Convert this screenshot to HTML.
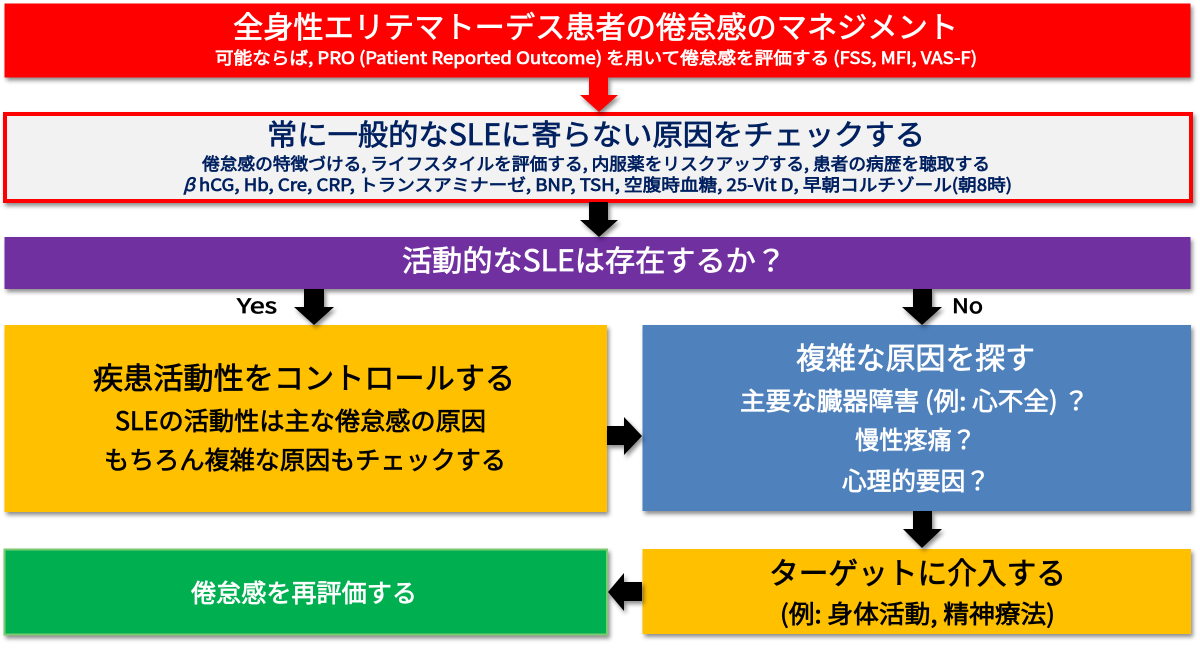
<!DOCTYPE html>
<html lang="ja">
<head>
<meta charset="utf-8">
<style>
html,body{margin:0;padding:0;background:#fff;width:1200px;height:654px;overflow:hidden}
svg{display:block}
text{font-family:"Noto Sans CJK JP","Liberation Sans",sans-serif;font-weight:400;text-anchor:start;stroke-width:.7px}
.s{filter:drop-shadow(2px 3px 2px rgba(0,0,0,.45))}
.w{fill:#fff;stroke:#fff}.n{fill:#002060;stroke:#002060}.k{fill:#000;stroke:#000}
</style>
</head>
<body>
<svg width="1200" height="654" viewBox="0 0 1200 654" xmlns="http://www.w3.org/2000/svg">
<rect class="s" x="4.5" y="3.5" width="1186" height="74" fill="#ff0000"/>
<rect class="s" x="5" y="114" width="1186" height="87" fill="#f2f2f2" stroke="#ff0000" stroke-width="4"/>
<rect class="s" x="4.5" y="237" width="1186" height="52" fill="#7030a0"/>
<rect class="s" x="4.5" y="325" width="602.5" height="187" fill="#ffc000"/>
<rect class="s" x="642.5" y="325" width="548.5" height="186" fill="#4f81bd"/>
<rect class="s" x="4.5" y="549.5" width="602.5" height="85" fill="#00b050" stroke="#7ccb72" stroke-width="2"/>
<rect class="s" x="642.5" y="549" width="548.5" height="85" fill="#ffc000"/>

<polygon class="s" fill="#ff0000" points="589,77 608,77 608,95 618,95 599,112 580,95 589,95"/>
<polygon class="s" fill="#000" points="589,202 608,202 608,220 618,220 599,237 580,220 589,220"/>
<polygon class="s" fill="#000" points="304,289 324,289 324,307 334,307 314,325 294,307 304,307"/>
<polygon class="s" fill="#000" points="913,289 932,289 932,307 942,307 922,325 902,307 913,307"/>
<polygon class="s" fill="#000" points="607,426 624,426 624,417 642,436 624,455 624,445 607,445"/>
<polygon class="s" fill="#000" points="913,511 932,511 932,529 942,529 922,548 903,529 913,529"/>
<polygon class="s" fill="#000" points="642,582 642,601 624,601 624,611 608,592 624,573 624,582"/>

<text class="w" x="233" y="38" font-size="30" textLength="725" lengthAdjust="spacingAndGlyphs">全身性エリテマトーデス患者の倦怠感のマネジメント</text>
<text class="w" x="215" y="64" font-size="17" textLength="762" lengthAdjust="spacingAndGlyphs">可能ならば, PRO (Patient Reported Outcome) を用いて倦怠感を評価する (FSS, MFI, VAS-F)</text>

<text class="n" x="267" y="145" font-size="29" textLength="658" lengthAdjust="spacingAndGlyphs">常に一般的なSLEに寄らない原因をチェックする</text>
<text class="n" x="202" y="170" font-size="17" textLength="788" lengthAdjust="spacingAndGlyphs">倦怠感の特徴づける, ライフスタイルを評価する, 内服薬をリスクアップする, 患者の病歴を聴取する</text>
<text class="n" x="183" y="191" font-size="17" textLength="829" lengthAdjust="spacingAndGlyphs"><tspan font-style="italic">β</tspan> hCG, Hb, Cre, CRP, トランスアミナーゼ, BNP, TSH, 空腹時血糖, 25-Vit D, 早朝コルチゾール(朝8時)</text>

<text class="w" x="402" y="271" font-size="29" textLength="384" lengthAdjust="spacingAndGlyphs">活動的なSLEは存在するか？</text>
<text class="k" x="237" y="313" font-size="20" textLength="40" lengthAdjust="spacingAndGlyphs">Yes</text>
<text class="k" x="952" y="313" font-size="20" textLength="31" lengthAdjust="spacingAndGlyphs">No</text>

<text class="k" x="93" y="389" font-size="30" textLength="422" lengthAdjust="spacingAndGlyphs">疾患活動性をコントロールする</text>
<text class="k" x="115" y="430" font-size="25" textLength="371" lengthAdjust="spacingAndGlyphs">SLEの活動性は主な倦怠感の原因</text>
<text class="k" x="104" y="469" font-size="25" textLength="402" lengthAdjust="spacingAndGlyphs">もちろん複雑な原因もチェックする</text>

<text class="w" x="796" y="369" font-size="30" textLength="239" lengthAdjust="spacingAndGlyphs">複雑な原因を探す</text>
<text class="w" x="740" y="410" font-size="25" textLength="349" lengthAdjust="spacingAndGlyphs">主要な臓器障害 (例: 心不全) ？</text>
<text class="w" x="855" y="449" font-size="25" textLength="121" lengthAdjust="spacingAndGlyphs">慢性疼痛？</text>
<text class="w" x="842" y="490" font-size="25" textLength="148" lengthAdjust="spacingAndGlyphs">心理的要因？</text>

<text class="k" x="769" y="584" font-size="30" textLength="297" lengthAdjust="spacingAndGlyphs">ターゲットに介入する</text>
<text class="k" x="780" y="623" font-size="25" textLength="275" lengthAdjust="spacingAndGlyphs">(例: 身体活動, 精神療法)</text>

<text class="w" x="191" y="602" font-size="25" textLength="226" lengthAdjust="spacingAndGlyphs">倦怠感を再評価する</text>
</svg>
</body>
</html>
